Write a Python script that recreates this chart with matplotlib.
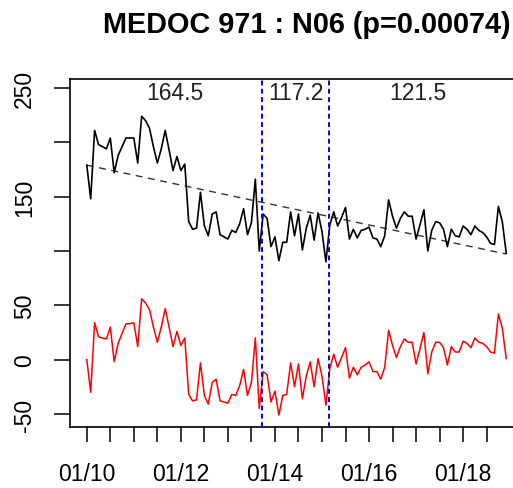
import numpy as np
import matplotlib
matplotlib.use("Agg")
import matplotlib.pyplot as plt

plt.rcParams['font.family'] = ['Liberation Sans', 'DejaVu Sans']
plt.rcParams['lines.scale_dashes'] = False

title = "MEDOC 971 : N06 (p=0.00074)"
start_year = 2010  # monthly series starting January 2010

series_black = [179, 148, 211, 198, 196, 194, 204, 172, 188, 196, 204, 204, 204, 181, 224, 220,
                213, 196, 181, 194, 211, 193, 174, 187, 174, 180, 127, 120, 121, 154, 123, 114,
                134, 136, 115, 113, 111, 119, 117, 125, 139, 115, 126, 166, 100, 134, 130, 104,
                113, 91, 108, 108, 136, 114, 134, 101, 121, 133, 110, 135, 118, 90, 124, 136,
                123, 131, 140, 111, 120, 112, 119, 120, 122, 112, 111, 104, 114, 147, 132, 121,
                130, 136, 132, 132, 111, 124, 138, 100, 119, 127, 126, 120, 104, 120, 114, 113,
                123, 120, 115, 123, 119, 117, 113, 107, 106, 141, 127, 98]

series_red = [0, -30, 34, 21, 20, 19, 30, -2, 15, 24, 33, 33, 34, 12, 56, 52,
              46, 30, 16, 30, 47, 30, 12, 26, 13, 20, -32, -38, -37, -3, -33, -41,
              -21, -18, -38, -39, -40, -32, -33, -24, -9, -33, -21, 20, -45, -11, -14, -39,
              -29, -51, -33, -32, -3, -25, -4, -36, -15, -2, -25, 1, -15, -42, -8, 5,
              -7, 2, 11, -17, -7, -14, -7, -5, -2, -11, -11, -18, -7, 27, 13, 2,
              12, 19, 16, 16, -4, 10, 25, -13, 7, 16, 16, 11, -5, 12, 7, 7,
              17, 15, 11, 20, 16, 15, 12, 7, 6, 42, 29, 1]

trend_start, trend_end = 179.0, 97.2
break_dates = [2013.73, 2015.15]
segment_means = ["164.5", "117.2", "121.5"]

yticks = [250, 200, 150, 100, 50, 0, -50]
ytick_labels = ["250", "", "150", "", "50", "0", "-50"]
xtick_years = [2010 + 0.5 * i for i in range(18)]
xtick_labels = ["01/10", "", "", "", "01/12", "", "", "", "01/14", "", "", "", "01/16",
                "", "", "", "01/18", ""]

n = len(series_black)
x = start_year + np.arange(n) / 12.0

W, H = 513, 489
fig = plt.figure(figsize=(W / 100, H / 100), dpi=100)
ax = fig.add_axes([70 / W, (H - 428) / H, (523 - 70) / W, (428 - 80) / H])

ax.plot(x, series_black, color='black', lw=1.2, zorder=3)
ax.plot(x, series_red, color='red', lw=1.1, zorder=3)
ax.plot([x[0], x[-1]], [trend_start, trend_end], color='#333333', lw=1.0,
        linestyle=(0, (5, 4)), zorder=2)
for b in break_dates:
    ax.axvline(b, color='#0000FF', lw=1.4, linestyle=(0, (3.5, 2.5)), zorder=4)

bounds = [x[0]] + break_dates + [x[-1]]
for i, lab in enumerate(segment_means):
    ax.text((bounds[i] + bounds[i + 1]) / 2, 246, lab, ha='center', va='center',
            fontsize=16.5, color='#222222')

ext = (x[-1] - x[0]) * 0.04
ax.set_xlim(x[0] - ext, x[-1] + ext)
ax.set_ylim(-62, 258.3)

ax.set_yticks(yticks)
ax.set_yticklabels(ytick_labels, rotation=90, va='center', fontsize=16.5)
ax.set_xticks(xtick_years)
ax.set_xticklabels(xtick_labels, fontsize=16.5)
ax.tick_params(axis='x', length=11, width=1.1, direction='out', pad=14)
ax.tick_params(axis='y', length=11.5, width=1.1, pad=13)

for s in ['left', 'top', 'bottom']:
    ax.spines[s].set_linewidth(1.2)
ax.spines['right'].set_visible(False)

fig.text(306.5 / W, 1 - 25 / H, title, ha='center', va='center',
         fontsize=20.8, fontweight='bold')

fig.savefig("out.png", dpi=100)
